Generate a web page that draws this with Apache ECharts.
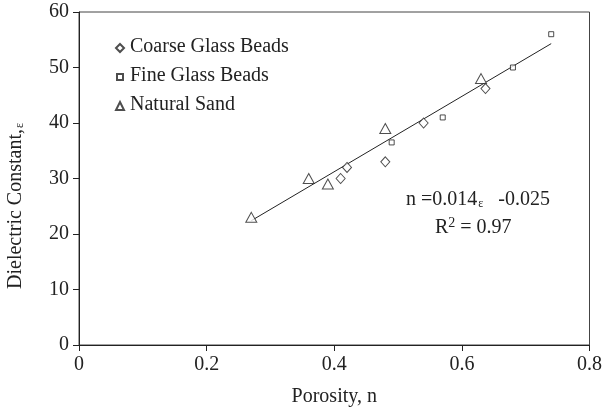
<!DOCTYPE html>
<html><head><meta charset="utf-8">
<script src="https://cdn.jsdelivr.net/npm/echarts@6/dist/echarts.min.js"></script>
<style>html,body{margin:0;padding:0;background:#fff}#c{width:605px;height:412px}</style>
</head><body><div id="c"></div>
<script>
const coarseGlass = [[0.41,30],[0.42,32],[0.48,33],[0.54,40],[0.637,46.2]];
const fineGlass = [[0.49,36.5],[0.57,41],[0.68,50],[0.74,56]];
const naturalSand = [[0.27,23],[0.36,30],[0.39,29],[0.48,39],[0.63,48]];
const trendLine = [[0.27,22.4],[0.74,54.3]];
const xTicks = [0,0.2,0.4,0.6,0.8];
const yTicks = [0,10,20,30,40,50,60];
const seriesNames = ['Coarse Glass Beads','Fine Glass Beads','Natural Sand'];

const FONT = 'Liberation Serif';
const INK = '#222';
const chart = echarts.init(document.getElementById('c'));
const base = {color:'#fff', borderColor:INK, borderWidth:1};
const rowCenters = [47, 76, 105];
const legendCommon = {orient:'vertical', left:110, itemWidth:8, itemHeight:8,
  formatter:function(){return '';}, selectedMode:false};
const rich = {a:{fontFamily:FONT, fontSize:20, fill:INK}};
function nameText(i){
  return {type:'text', left:130, top:rowCenters[i]-10, style:{text:'{a|'+seriesNames[i]+'}', rich:rich}};
}
chart.setOption({
  animation:false,
  textStyle:{fontFamily:FONT},
  grid:{left:79, right:13, top:12, bottom:67, show:true, borderColor:'#444', borderWidth:1, backgroundColor:'transparent'},
  legend:[
    Object.assign({}, legendCommon, {data:[seriesNames[0]], top:rowCenters[0]-9}),
    Object.assign({}, legendCommon, {data:[seriesNames[1]], top:rowCenters[1]-8, itemWidth:6, itemHeight:6, left:111}),
    Object.assign({}, legendCommon, {data:[seriesNames[2]], top:rowCenters[2]-9})
  ],
  xAxis:{type:'value', min:xTicks[0], max:xTicks[xTicks.length-1], interval:0.2,
    axisLine:{lineStyle:{color:INK}}, axisTick:{show:true, length:6, lineStyle:{color:INK}},
    splitLine:{show:false},
    axisLabel:{fontFamily:FONT, fontSize:20, color:INK, margin:10},
    name:'Porosity, n', nameLocation:'middle', nameGap:42,
    nameTextStyle:{fontFamily:FONT, fontSize:20, color:INK}},
  yAxis:{type:'value', min:yTicks[0], max:yTicks[yTicks.length-1], interval:10,
    axisLine:{show:true, lineStyle:{color:INK}}, axisTick:{show:true, length:6, lineStyle:{color:INK}},
    splitLine:{show:false},
    axisLabel:{fontFamily:FONT, fontSize:20, color:INK, margin:10}},
  graphic:[
    nameText(0), nameText(1), nameText(2),
    {type:'text', left:6, top:'center', rotation:Math.PI/2,
      style:{text:'{a|Dielectric Constant,}{s|ε}', rich:{
        a:{fontFamily:FONT, fontSize:20, fill:INK},
        s:{fontFamily:FONT, fontSize:12, fill:INK, padding:[8,0,0,1]}}}},
    {type:'text', left:406, top:190,
      style:{text:'{a|n =0.014}{s|ε}{a|   -0.025}', rich:{
        a:{fontFamily:FONT, fontSize:20, fill:INK},
        s:{fontFamily:FONT, fontSize:12, fill:INK, padding:[8,0,0,1]}}}},
    {type:'text', left:435, top:216,
      style:{text:'{a|R}{p|2}{a| = 0.97}', rich:{
        a:{fontFamily:FONT, fontSize:20, fill:INK},
        p:{fontFamily:FONT, fontSize:14, fill:INK, padding:[0,0,10,0]}}}}
  ],
  series:[
    {name:seriesNames[0], type:'scatter', symbol:'diamond', symbolSize:[9,10], data:coarseGlass, itemStyle:base, z:3},
    {name:seriesNames[1], type:'scatter', symbol:'rect', symbolSize:5, data:fineGlass, itemStyle:base, z:3},
    {name:seriesNames[2], type:'scatter', symbol:'triangle', symbolSize:[11,10], data:naturalSand, itemStyle:base, z:3},
    {type:'line', data:trendLine, symbol:'none', lineStyle:{color:INK, width:1}, z:2, silent:true}
  ]
});
</script></body></html>
